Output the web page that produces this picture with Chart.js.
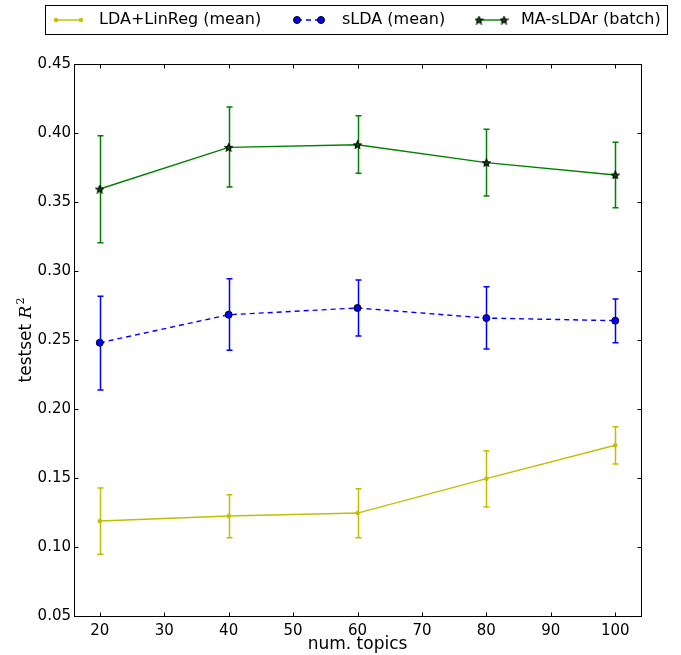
<!DOCTYPE html>
<html><head><meta charset="utf-8">
<script src="https://cdn.jsdelivr.net/npm/chart.js@4"></script>
<style>html,body{margin:0;padding:0;background:#fff}</style>
</head><body>
<canvas id="c" width="681" height="655"></canvas>
<script>
// ---- data ----
const topics = [20, 40, 60, 80, 100];
const ldaMean  = [0.1188, 0.1225, 0.1246, 0.1495, 0.1737];
const ldaLow   = [0.0947, 0.1067, 0.1067, 0.1290, 0.1601];
const ldaHigh  = [0.1428, 0.1379, 0.1423, 0.1698, 0.1872];
const sldaMean = [0.2480, 0.2683, 0.2732, 0.2659, 0.2640];
const sldaLow  = [0.2138, 0.2425, 0.2529, 0.2435, 0.2480];
const sldaHigh = [0.2817, 0.2944, 0.2935, 0.2886, 0.2797];
const masMean  = [0.3594, 0.3896, 0.3915, 0.3785, 0.3696];
const masLow   = [0.3205, 0.3609, 0.3708, 0.3543, 0.3459];
const masHigh  = [0.3980, 0.4188, 0.4125, 0.4027, 0.3933];
const xTicks = [20, 30, 40, 50, 60, 70, 80, 90, 100];
const yTicks = [0.05, 0.10, 0.15, 0.20, 0.25, 0.30, 0.35, 0.40, 0.45];
const seriesLabels = ['LDA+LinReg (mean)', 'sLDA (mean)', 'MA-sLDAr (batch)'];
const xTitle = 'num. topics';
const yTitlePlain = 'testset ';
const yTitleVar = 'R';
const yTitleSup = '2';

const SANS = '"DejaVu Sans", "Liberation Sans", sans-serif';

function pts(ys) { return topics.map((x, i) => ({x: x, y: ys[i]})); }

// star marker image
function starImage(size, fill, stroke) {
  const c = document.createElement('canvas');
  c.width = size; c.height = size;
  const g = c.getContext('2d');
  const cx = size / 2, cy = size / 2 + 0.4, ro = size / 2 - 0.7, ri = ro * 0.45;
  g.beginPath();
  for (let k = 0; k < 10; k++) {
    const r = k % 2 === 0 ? ro : ri;
    const a = -Math.PI / 2 + k * Math.PI / 5;
    const px = cx + r * Math.cos(a), py = cy + r * Math.sin(a);
    if (k === 0) g.moveTo(px, py); else g.lineTo(px, py);
  }
  g.closePath();
  g.fillStyle = fill; g.fill();
  g.lineWidth = 1.2; g.strokeStyle = stroke; g.stroke();
  return c;
}
const starImg = starImage(9, '#006000', '#000000');

const datasets = [
  {label: seriesLabels[0], data: pts(ldaMean), errLow: ldaLow, errHigh: ldaHigh,
   borderColor: '#bfbf00', backgroundColor: '#bfbf00', borderWidth: 1.4,
   pointStyle: 'circle', pointRadius: 2, pointBorderWidth: 0.5, pointBorderColor: '#bfbf00', pointBackgroundColor: '#bfbf00'},
  {label: seriesLabels[1], data: pts(sldaMean), errLow: sldaLow, errHigh: sldaHigh,
   borderColor: '#0000ff', backgroundColor: '#0000ff', borderWidth: 1.4, borderDash: [5, 4],
   pointStyle: 'circle', pointRadius: 3.5, pointBorderWidth: 1, pointBorderColor: '#000000', pointBackgroundColor: '#0000ff'},
  {label: seriesLabels[2], data: pts(masMean), errLow: masLow, errHigh: masHigh,
   borderColor: '#008000', backgroundColor: '#008000', borderWidth: 1.4,
   pointStyle: starImg, pointRadius: 4.5}
];
datasets.forEach(d => { d.tension = 0; d.fill = false; d.pointHoverRadius = d.pointRadius; });

const errorBars = {
  id: 'errorBars',
  beforeDatasetsDraw(chart) {
    const ctx = chart.ctx, xs = chart.scales.x, ys = chart.scales.y;
    chart.data.datasets.forEach(ds => {
      ctx.save();
      ctx.strokeStyle = ds.borderColor; ctx.lineWidth = 1.5; ctx.setLineDash([]);
      ds.data.forEach((p, i) => {
        const px = Math.round(xs.getPixelForValue(p.x)) + 0.5;
        const y1 = ys.getPixelForValue(ds.errLow[i]);
        const y2 = ys.getPixelForValue(ds.errHigh[i]);
        ctx.beginPath();
        ctx.moveTo(px, y1); ctx.lineTo(px, y2);
        ctx.moveTo(px - 3, y1); ctx.lineTo(px + 3, y1);
        ctx.moveTo(px - 3, y2); ctx.lineTo(px + 3, y2);
        ctx.stroke();
      });
      ctx.restore();
    });
  }
};

function drawMarker(ctx, ds, x, y) {
  if (ds.pointStyle instanceof HTMLCanvasElement) {
    ctx.drawImage(ds.pointStyle, x - ds.pointStyle.width / 2, y - ds.pointStyle.height / 2);
    return;
  }
  ctx.beginPath();
  ctx.arc(x, y, ds.pointRadius, 0, Math.PI * 2);
  ctx.fillStyle = ds.pointBackgroundColor; ctx.fill();
  ctx.lineWidth = ds.pointBorderWidth; ctx.strokeStyle = ds.pointBorderColor; ctx.stroke();
}

const frameAndLegend = {
  id: 'frameAndLegend',
  afterDraw(chart) {
    const ctx = chart.ctx, a = chart.chartArea, xs = chart.scales.x, ys = chart.scales.y;
    ctx.save();
    // frame
    ctx.setLineDash([]);
    ctx.lineWidth = 1;
    ctx.strokeStyle = '#000';
    const L = Math.round(a.left) + 0.5, R = Math.round(a.right) + 0.5;
    const T = Math.round(a.top) + 0.5, B = Math.round(a.bottom) + 0.5;
    ctx.strokeRect(L, T, R - L, B - T);
    // inward ticks
    ctx.beginPath();
    xTicks.forEach(v => {
      const px = Math.round(xs.getPixelForValue(v)) + 0.5;
      ctx.moveTo(px, B); ctx.lineTo(px, B - 4);
      ctx.moveTo(px, T); ctx.lineTo(px, T + 4);
    });
    yTicks.forEach(v => {
      const py = Math.round(ys.getPixelForValue(v)) + 0.5;
      ctx.moveTo(L, py); ctx.lineTo(L + 4, py);
      ctx.moveTo(R, py); ctx.lineTo(R - 4, py);
    });
    ctx.stroke();

    // y title
    ctx.save();
    ctx.translate(27, (a.top + a.bottom) / 2);
    ctx.rotate(-Math.PI / 2);
    ctx.fillStyle = '#000';
    ctx.textBaseline = 'middle';
    ctx.textAlign = 'left';
    const f1 = '17px ' + SANS, f2 = 'italic 17px "DejaVu Serif", "Liberation Serif", serif', f3 = '11px "DejaVu Serif", serif';
    ctx.font = f1; const w1 = ctx.measureText(yTitlePlain).width;
    ctx.font = f2; const w2 = ctx.measureText(yTitleVar).width;
    ctx.font = f3; const w3 = ctx.measureText(yTitleSup).width;
    let x0 = -(w1 + w2 + w3 + 1) / 2;
    ctx.font = f1; ctx.fillText(yTitlePlain, x0, 0);
    ctx.font = f2; ctx.fillText(yTitleVar, x0 + w1, 0);
    ctx.font = f3; ctx.fillText(yTitleSup, x0 + w1 + w2 + 1, -6);
    ctx.restore();

    // legend
    ctx.lineWidth = 1; ctx.strokeStyle = '#000';
    ctx.strokeRect(45.5, 5.5, 622, 29);
    const cy = 20;
    const syms = [[56, 81, 99], [297, 321, 342], [479, 504, 521]];
    chart.data.datasets.forEach((ds, i) => {
      const [s1, s2, tx] = syms[i];
      ctx.save();
      ctx.strokeStyle = ds.borderColor; ctx.lineWidth = ds.borderWidth;
      ctx.setLineDash(ds.borderDash || []);
      ctx.beginPath(); ctx.moveTo(s1, cy); ctx.lineTo(s2, cy); ctx.stroke();
      ctx.setLineDash([]);
      drawMarker(ctx, ds, s1, cy);
      drawMarker(ctx, ds, s2, cy);
      ctx.restore();
      ctx.fillStyle = '#000';
      ctx.font = '16px ' + SANS;
      ctx.textBaseline = 'middle'; ctx.textAlign = 'left';
      ctx.fillText(ds.label, tx, cy);
    });
    ctx.restore();
  }
};

new Chart(document.getElementById('c'), {
  type: 'line',
  data: {datasets: datasets},
  options: {
    responsive: false,
    animation: false,
    devicePixelRatio: 1,
    layout: {padding: {top: 64, right: 40, left: 0, bottom: 0}},
    plugins: {legend: {display: false}, tooltip: {enabled: false}},
    scales: {
      x: {
        type: 'linear', min: 16, max: 104,
        afterBuildTicks: s => { s.ticks = xTicks.map(v => ({value: v})); },
        afterFit: s => { s.height = 39; },
        grid: {display: false, drawTicks: false},
        border: {display: false},
        ticks: {padding: 6, color: '#000', font: {family: SANS, size: 15}, maxRotation: 0,
                callback: v => String(v)},
        title: {display: true, text: xTitle, color: '#000', font: {family: SANS, size: 17},
                padding: {top: 0, bottom: 0}}
      },
      y: {
        type: 'linear', min: 0.05, max: 0.45,
        afterBuildTicks: s => { s.ticks = yTicks.map(v => ({value: v})); },
        afterFit: s => { s.width = 74; },
        grid: {display: false, drawTicks: false},
        border: {display: false},
        ticks: {padding: 3, color: '#000', font: {family: SANS, size: 15},
                callback: v => Number(v).toFixed(2)}
      }
    }
  },
  plugins: [errorBars, frameAndLegend]
});
</script>
</body></html>
